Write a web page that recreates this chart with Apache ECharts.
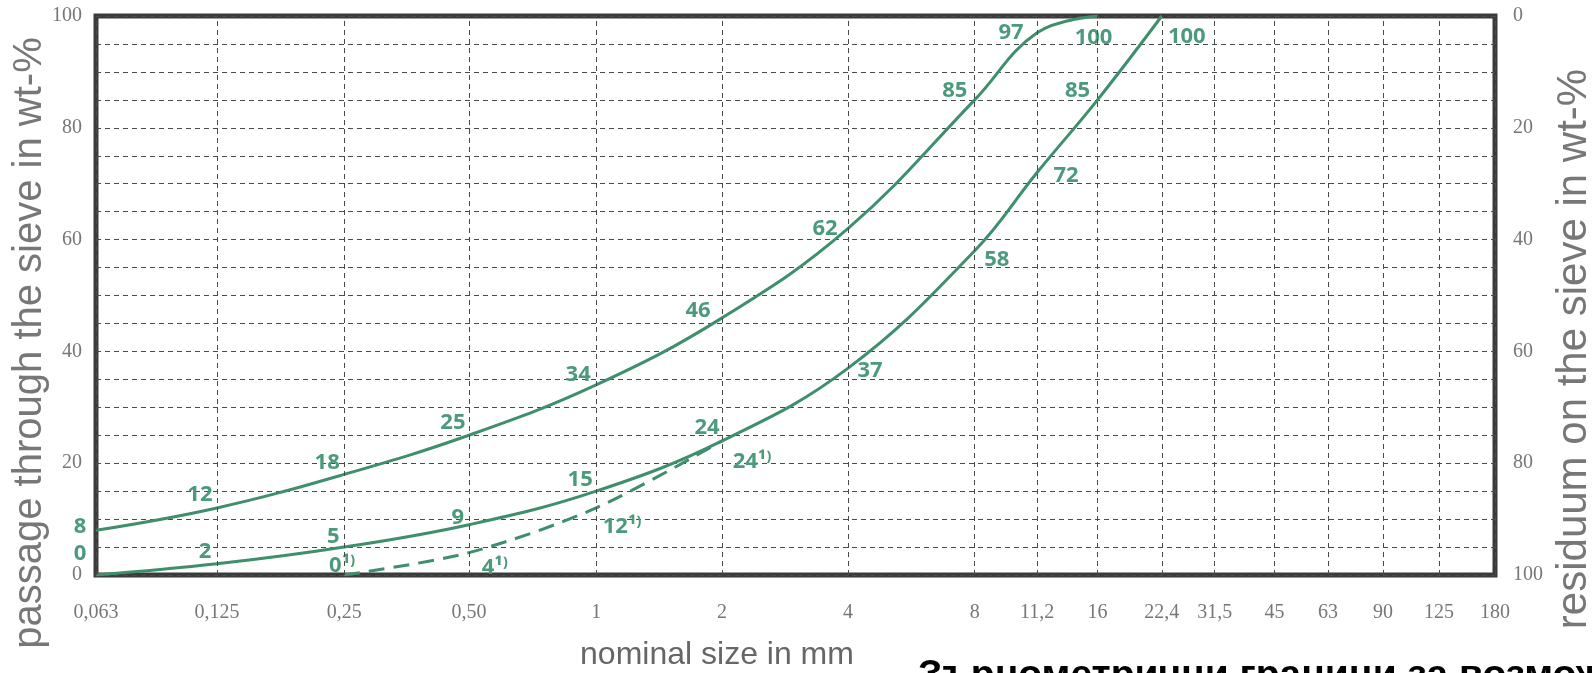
<!DOCTYPE html>
<html>
<head>
<meta charset="utf-8">
<script src="https://cdn.jsdelivr.net/npm/echarts@6/dist/echarts.min.js"></script>
<style>
  html, body { margin: 0; padding: 0; background: #fff; }
  #chart { width: 1592px; height: 673px; }
</style>
</head>
<body>
<div id="chart"></div>
<script>
// sieve sizes (mm) and their labels along the bottom
const sieveSizes = [0.063, 0.125, 0.25, 0.5, 1, 2, 4, 8, 11.2, 16, 22.4, 31.5, 45, 63, 90, 125, 180];
const sieveLabels = ['0,063', '0,125', '0,25', '0,50', '1', '2', '4', '8', '11,2', '16', '22,4', '31,5', '45', '63', '90', '125', '180'];
// where each sieve sits on the (non uniform) size axis
const sieveAxisPos = [0, 1.92, 3.94, 5.92, 7.94, 9.94, 11.94, 13.95, 14.94, 15.9, 16.92, 17.76, 18.71, 19.56, 20.43, 21.32, 22.21];

// upper grading curve
const upperSizes = [0.063, 0.125, 0.25, 0.5, 1, 2, 4, 8, 11.2, 16];
const upperPassing = [8, 12, 18, 25, 34, 46, 62, 85, 97, 100];
// lower grading curve
const lowerSizes = [0.063, 0.125, 0.25, 0.5, 1, 2, 4, 8, 11.2, 16, 22.4];
const lowerPassing = [0, 2, 5, 9, 15, 24, 37, 58, 72, 85, 100];
// dashed variant (footnote 1)
const dashedSizes = [0.25, 0.5, 1, 2];
const dashedPassing = [0, 4, 12, 24];
const dashedNote = '¹⁾';

// label offsets from the point, px
const upperLabelOffset = [[-16, -4], [-17, -13], [-17, -12], [-16, -13], [-18, -10], [-24, -7], [-23, 0], [-20, -9], [-26, 0], [-4, 22]];
const lowerLabelOffset = [[-16, -21], [-12, -12], [-11, -10], [-11, -7], [-16, -11], [-15, -13], [22, 3], [22, 9], [29, 3], [-20, -9], [25, 21]];
const dashedLabelOffset = [[-2, -9], [26, 15], [26, 19], [30, 21]];

const green = '#3f8f6d';
const labelGreen = '#4b9a7b';
const gray = '#777';

function toPoints(sizes, values, offsets, suffix) {
  return sizes.map((s, i) => ({
    value: [sieveAxisPos[sieveSizes.indexOf(s)], values[i]],
    label: { offset: offsets[i], formatter: values[i] + (suffix || '') }
  }));
}

const curveLabel = {
  show: true,
  position: 'inside',
  color: labelGreen,
  fontFamily: 'Open Sans',
  fontWeight: 'bold',
  fontSize: 22
};

const chart = echarts.init(document.getElementById('chart'));
chart.setOption({
  backgroundColor: '#fff',
  animation: false,
  grid: {
    left: 96, right: 97, top: 16, bottom: 98,
    show: true, borderColor: '#3b3b3b', borderWidth: 5
  },
  xAxis: {
    type: 'value',
    min: 0,
    max: sieveAxisPos[sieveAxisPos.length - 1],
    axisLine: { show: false },
    axisTick: { show: false },
    axisLabel: { show: false },
    splitLine: { show: false }
  },
  yAxis: [
    {
      type: 'value', min: 0, max: 100, interval: 5,
      axisLine: { show: false }, axisTick: { show: false },
      axisLabel: {
        margin: 14, color: gray, fontFamily: 'Liberation Serif', fontSize: 20,
        formatter: v => (v % 20 === 0 ? String(v) : '')
      },
      splitLine: { lineStyle: { color: '#4a4a4a', width: 1, type: [5, 4] } }
    },
    {
      type: 'value', min: 0, max: 100, interval: 5, inverse: true, position: 'right',
      axisLine: { show: false }, axisTick: { show: false },
      axisLabel: {
        margin: 18, color: gray, fontFamily: 'Liberation Serif', fontSize: 20,
        formatter: v => (v % 20 === 0 ? String(v) : '')
      },
      splitLine: { show: false }
    }
  ],
  graphic: [
    {
      type: 'text', x: 30, y: 343, rotation: Math.PI / 2,
      style: {
        text: 'passage through the sieve in wt-%', fill: gray,
        font: '40px "Liberation Sans"', align: 'center', verticalAlign: 'middle'
      }
    },
    {
      type: 'text', x: 1574, y: 349, rotation: Math.PI / 2,
      style: {
        text: 'residuum on the sieve in wt-%', fill: gray,
        font: '42px "Liberation Sans"', align: 'center', verticalAlign: 'middle'
      }
    },
    {
      type: 'text', x: 717, y: 655,
      style: {
        text: 'nominal size in mm', fill: '#666',
        font: '32px "Liberation Sans"', align: 'center', verticalAlign: 'middle'
      }
    },
    {
      type: 'text', x: 918, y: 676,
      style: {
        text: 'Зърнометрични граници за возможност', fill: '#000',
        font: 'bold 39px "Liberation Sans"', align: 'left', verticalAlign: 'middle'
      }
    }
  ],
  series: [
    {
      // vertical sieve grid lines + size labels
      type: 'line', data: [], z: 1, silent: true,
      markLine: {
        silent: true, symbol: ['none', 'none'], animation: false,
        lineStyle: { color: '#4a4a4a', width: 1, type: [5, 4] },
        label: {
          position: 'start', distance: 28, color: gray,
          fontFamily: 'Liberation Serif', fontSize: 20
        },
        data: sieveAxisPos.map((p, i) => ({ xAxis: p, label: { formatter: sieveLabels[i] } }))
      }
    },
    {
      name: 'upper', type: 'line', z: 3, smooth: 0.4,
      symbol: 'circle', symbolSize: 1, showSymbol: true,
      itemStyle: { color: green },
      lineStyle: { color: green, width: 3 },
      label: curveLabel,
      data: toPoints(upperSizes, upperPassing, upperLabelOffset)
    },
    {
      name: 'lower', type: 'line', z: 3, smooth: 0.4,
      symbol: 'circle', symbolSize: 1, showSymbol: true,
      itemStyle: { color: green },
      lineStyle: { color: green, width: 3 },
      label: curveLabel,
      data: toPoints(lowerSizes, lowerPassing, lowerLabelOffset)
    },
    {
      name: 'dashed', type: 'line', z: 3, smooth: 0.3,
      symbol: 'circle', symbolSize: 1, showSymbol: true,
      itemStyle: { color: green },
      lineStyle: { color: green, width: 3, type: [16, 9] },
      label: curveLabel,
      data: toPoints(dashedSizes, dashedPassing, dashedLabelOffset, dashedNote)
    }
  ]
});
</script>
</body>
</html>
